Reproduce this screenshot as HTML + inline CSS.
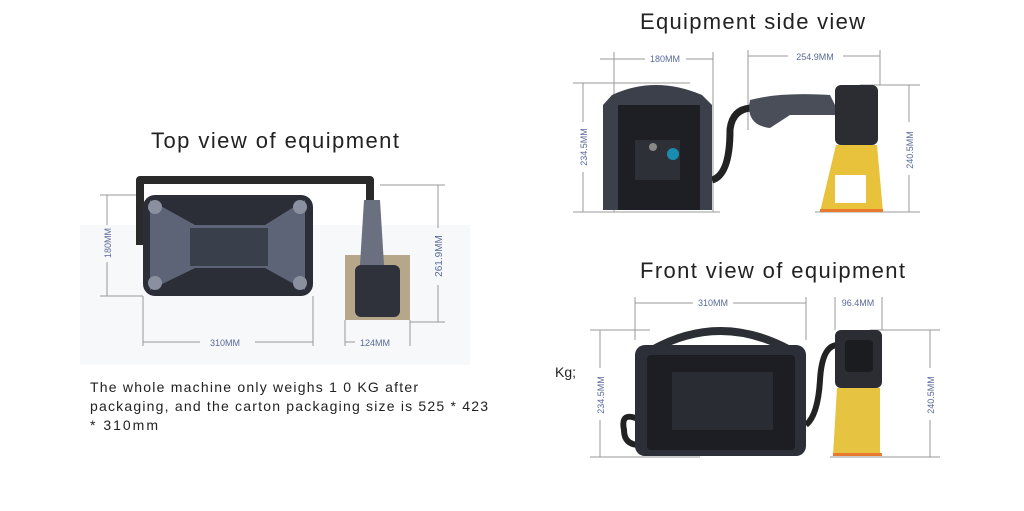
<!DOCTYPE html><html><head><style>body{margin:0;background:#fff}svg{display:block}text{font-family:"Liberation Sans",sans-serif}</style></head><body>
<svg width="1024" height="511" viewBox="0 0 1024 511">
<rect x="80" y="225" width="390" height="140" fill="#f7f8fa"/>
<g stroke="#999" stroke-width="1" fill="none">
<line x1="100" y1="195" x2="143" y2="195"/><line x1="100" y1="296" x2="143" y2="296"/>
<line x1="107" y1="195" x2="107" y2="225"/><line x1="107" y1="262" x2="107" y2="296"/>
<line x1="380" y1="185" x2="445" y2="185"/><line x1="410" y1="322" x2="445" y2="322"/>
<line x1="438" y1="185" x2="438" y2="228"/><line x1="438" y1="285" x2="438" y2="322"/>
<line x1="143" y1="296" x2="143" y2="346"/><line x1="313" y1="296" x2="313" y2="346"/>
<line x1="143" y1="342" x2="200" y2="342"/><line x1="255" y1="342" x2="313" y2="342"/>
<line x1="345" y1="320" x2="345" y2="346"/><line x1="410" y1="320" x2="410" y2="346"/>
<line x1="345" y1="342" x2="355" y2="342"/>
<line x1="600" y1="59" x2="645" y2="59"/><line x1="686" y1="59" x2="713" y2="59"/>
<line x1="614" y1="52" x2="614" y2="212"/><line x1="713" y1="52" x2="713" y2="212"/>
<line x1="748" y1="56" x2="788" y2="56"/><line x1="843" y1="56" x2="880" y2="56"/>
<line x1="748" y1="50" x2="748" y2="130"/><line x1="880" y1="50" x2="880" y2="85"/>
<line x1="573" y1="83" x2="690" y2="83"/><line x1="573" y1="212" x2="720" y2="212"/>
<line x1="583" y1="83" x2="583" y2="122"/><line x1="583" y1="172" x2="583" y2="212"/>
<line x1="860" y1="85" x2="920" y2="85"/><line x1="815" y1="212" x2="920" y2="212"/>
<line x1="909" y1="85" x2="909" y2="122"/><line x1="909" y1="175" x2="909" y2="212"/>
<line x1="635" y1="297" x2="635" y2="340"/><line x1="806" y1="297" x2="806" y2="340"/>
<line x1="635" y1="303" x2="693" y2="303"/><line x1="733" y1="303" x2="806" y2="303"/>
<line x1="835" y1="297" x2="835" y2="330"/><line x1="882" y1="297" x2="882" y2="330"/>
<line x1="590" y1="330" x2="650" y2="330"/><line x1="590" y1="457" x2="700" y2="457"/>
<line x1="600" y1="330" x2="600" y2="368"/><line x1="600" y1="420" x2="600" y2="457"/>
<line x1="870" y1="330" x2="940" y2="330"/><line x1="830" y1="457" x2="940" y2="457"/>
<line x1="930" y1="330" x2="930" y2="368"/><line x1="930" y1="420" x2="930" y2="457"/>
</g>
<g font-size="9" fill="#5a6a9a">
<text x="225" y="346" text-anchor="middle">310MM</text>
<text x="375" y="346" text-anchor="middle">124MM</text>
<text transform="translate(111,243) rotate(-90)" text-anchor="middle">180MM</text>
<text transform="translate(442,256) rotate(-90)" text-anchor="middle" font-size="10">261.9MM</text>
<text x="665" y="62" text-anchor="middle">180MM</text>
<text x="815" y="60" text-anchor="middle">254.9MM</text>
<text transform="translate(587,147) rotate(-90)" text-anchor="middle">234.5MM</text>
<text transform="translate(913,150) rotate(-90)" text-anchor="middle">240.5MM</text>
<text x="713" y="306" text-anchor="middle">310MM</text>
<text x="858" y="306" text-anchor="middle">96.4MM</text>
<text transform="translate(604,395) rotate(-90)" text-anchor="middle">234.5MM</text>
<text transform="translate(934,395) rotate(-90)" text-anchor="middle">240.5MM</text>
</g>
<path d="M140 245 V180 H370 V200" stroke="#2a2a2a" stroke-width="8" fill="none" stroke-linejoin="round"/>
<rect x="143" y="195" width="170" height="101" rx="12" fill="#2b2e36"/>
<path d="M150 200 L195 225 H265 L305 200 L305 290 L265 268 H195 L150 290Z" fill="#5d6478"/>
<rect x="190" y="228" width="78" height="38" fill="#3a3f4c"/>
<circle cx="155" cy="207" r="7" fill="#8a90a0"/><circle cx="300" cy="207" r="7" fill="#8a90a0"/><circle cx="155" cy="283" r="7" fill="#8a90a0"/><circle cx="300" cy="283" r="7" fill="#8a90a0"/>
<rect x="345" y="255" width="65" height="65" fill="#b7a78a"/>
<path d="M364 200 H380 L384 265 H360Z" fill="#6b7080"/>
<rect x="355" y="265" width="45" height="52" rx="6" fill="#2f323a"/>
<path d="M712 180 Q730 175 730 130 Q732 110 750 108" stroke="#222" stroke-width="7" fill="none"/>
<path d="M612 95 Q655 75 702 95 L712 105 V210 H603 V105Z" fill="#3c404b"/>
<rect x="618" y="105" width="82" height="105" fill="#1d1f24"/>
<rect x="635" y="140" width="45" height="40" fill="#2e3038"/>
<circle cx="673" cy="154" r="6" fill="#1a8cb0"/><circle cx="653" cy="147" r="4" fill="#888"/>
<path d="M750 100 Q780 92 830 95 L840 115 H790 L770 128 Q745 125 750 100Z" fill="#4a4e58"/>
<rect x="835" y="85" width="43" height="60" rx="6" fill="#2b2d33"/>
<path d="M836 145 H877 L883 212 H820Z" fill="#e8c23a"/>
<rect x="835" y="175" width="31" height="28" fill="#fff"/>
<rect x="820" y="209" width="63" height="3" fill="#e87a30"/>
<path d="M806 425 Q818 415 820 380 Q822 345 838 345" stroke="#222" stroke-width="6" fill="none"/>
<path d="M640 420 Q620 410 624 430 Q624 445 640 445" stroke="#222" stroke-width="6" fill="none"/>
<path d="M652 350 Q720 312 790 350" stroke="#2c2e35" stroke-width="8" fill="none"/>
<rect x="635" y="345" width="171" height="111" rx="10" fill="#2c2f37"/>
<rect x="647" y="355" width="148" height="95" rx="4" fill="#1c1e23"/>
<rect x="672" y="372" width="101" height="58" fill="#2a2c33"/>
<rect x="835" y="330" width="47" height="58" rx="6" fill="#2b2d33"/>
<rect x="845" y="340" width="28" height="32" rx="4" fill="#1b1c20"/>
<path d="M837 388 H880 V455 H833Z" fill="#e6c340"/>
<rect x="833" y="453" width="49" height="3" fill="#e87a30"/>
<g fill="#222">
<text x="151" y="148" font-size="22" textLength="248" lengthAdjust="spacing">Top view of equipment</text>
<text x="640" y="29" font-size="22" textLength="225" lengthAdjust="spacing">Equipment side view</text>
<text x="640" y="278" font-size="22" textLength="265" lengthAdjust="spacing">Front view of equipment</text>
<text x="555" y="377" font-size="14" font-family="Liberation Serif">Kg;</text>
<g font-size="14"><text x="90" y="392" textLength="328" lengthAdjust="spacing">The whole machine only weighs 1 0 KG after</text>
<text x="90" y="411" textLength="398" lengthAdjust="spacing">packaging, and the carton packaging size is 525 * 423</text>
<text x="90" y="430" textLength="68" lengthAdjust="spacing">* 310mm</text></g>
</g>
</svg></body></html>
